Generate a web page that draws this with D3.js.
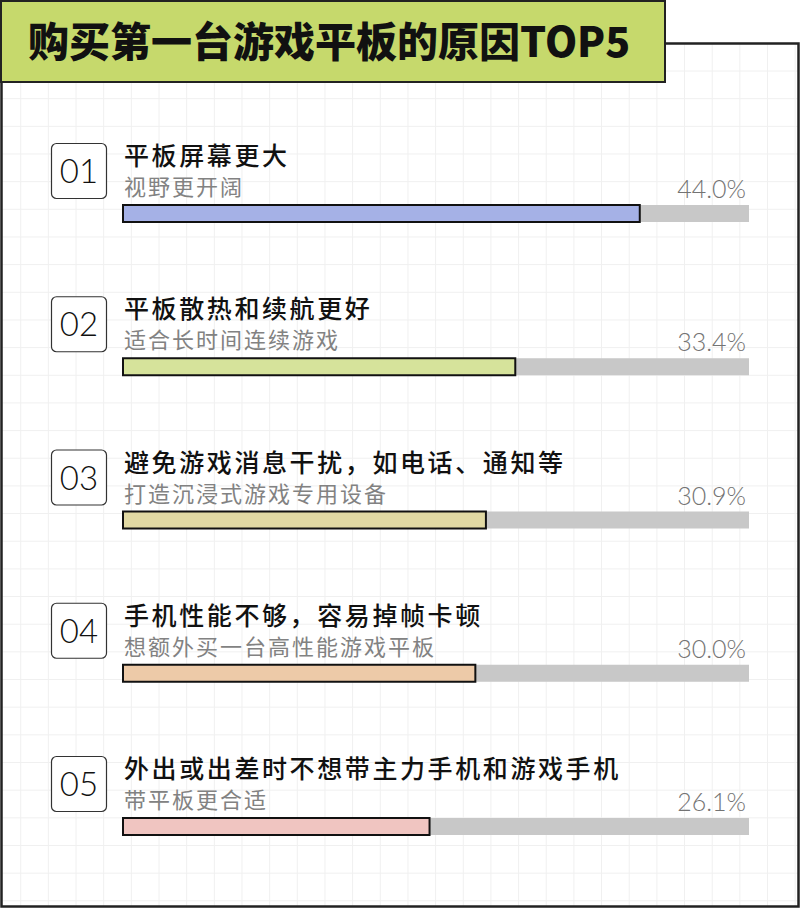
<html>
<head>
<meta charset="utf-8">
<script src="https://d3js.org/d3.v7.min.js"></script>
<style>
  body { margin: 0; background: #fff; }
  svg text { font-family: "Noto Sans CJK SC", "Noto Sans", sans-serif; }
</style>
</head>
<body>
<script>

// data
var ranks   = ["01", "02", "03", "04", "05"];
var reasons = ["平板屏幕更大", "平板散热和续航更好", "避免游戏消息干扰，如电话、通知等",
               "手机性能不够，容易掉帧卡顿", "外出或出差时不想带主力手机和游戏手机"];
var details = ["视野更开阔", "适合长时间连续游戏", "打造沉浸式游戏专用设备",
               "想额外买一台高性能游戏平板", "带平板更合适"];
var shares  = [44.0, 33.4, 30.9, 30.0, 26.1];
var barColors = ["#a5b1e6", "#d6e39b", "#e1d9a3", "#edcaa8", "#f0c5c1"];
var title = "购买第一台游戏平板的原因TOP5";

var rows = ranks.map(function(r, i) {
  return {rank: r, reason: reasons[i], detail: details[i], share: shares[i], color: barColors[i]};
});

var width = 801, height = 910;

var svg = d3.select("body").append("svg")
            .attr("width", width)
            .attr("height", height);

// grid paper background
var gridStep = 27.66;
var gx = d3.range(20.7, 798, gridStep),
    gy = d3.range(71, 906, gridStep);

svg.append("g").selectAll("line.v")
   .data(gx)
   .enter().append("line")
   .attr("x1", function(d) { return d; })
   .attr("x2", function(d) { return d; })
   .attr("y1", 43).attr("y2", 907)
   .attr("stroke", "#f0f0f0").attr("stroke-width", 1);

svg.append("g").selectAll("line.h")
   .data(gy)
   .enter().append("line")
   .attr("y1", function(d) { return d; })
   .attr("y2", function(d) { return d; })
   .attr("x1", 1).attr("x2", 799)
   .attr("stroke", "#f0f0f0").attr("stroke-width", 1);

// frame
svg.append("rect")
   .attr("x", 1.5).attr("y", 43.5)
   .attr("width", 797).attr("height", 863)
   .attr("fill", "none")
   .attr("stroke", "#222").attr("stroke-width", 2.5);

// title box
svg.append("rect")
   .attr("x", 1).attr("y", 1)
   .attr("width", 664).attr("height", 81)
   .attr("fill", "#c6d96c")
   .attr("stroke", "#222").attr("stroke-width", 2);

svg.append("text")
   .attr("x", 28).attr("y", 57)
   .attr("font-size", 41)
   .attr("font-weight", 900)
   .attr("fill", "#111")
   .text(title);

var x = d3.scaleLinear()
          .domain([0, 53.3])
          .range([123, 749]);

var y = d3.scalePoint()
          .domain(ranks)
          .range([205, 818]);

var barH = 17;

var row = svg.selectAll("g.row")
             .data(rows)
             .enter().append("g")
             .attr("class", "row")
             .attr("transform", function(d) { return "translate(0," + y(d.rank) + ")"; });

// rank boxes
row.append("rect")
   .attr("x", 51.5).attr("y", -61.5)
   .attr("width", 55).attr("height", 55)
   .attr("rx", 5)
   .attr("fill", "#fff")
   .attr("stroke", "#333").attr("stroke-width", 1.2);

row.append("text")
   .attr("x", 79).attr("y", -22)
   .attr("text-anchor", "middle")
   .attr("font-size", 33)
   .attr("font-weight", 300)
   .attr("fill", "#111")
   .style("font-family", "Lato, 'Noto Sans', sans-serif")
   .text(function(d) { return d.rank; });

row.append("text")
   .attr("x", 124).attr("y", -40)
   .attr("font-size", 25)
   .attr("font-weight", 500)
   .attr("letter-spacing", 2.6)
   .attr("fill", "#111")
   .text(function(d) { return d.reason; });

row.append("text")
   .attr("x", 124).attr("y", -10)
   .attr("font-size", 22)
   .attr("letter-spacing", 2)
   .attr("fill", "#828282")
   .text(function(d) { return d.detail; });

row.append("text")
   .attr("x", 746).attr("y", -7)
   .attr("text-anchor", "end")
   .attr("font-size", 25)
   .attr("font-weight", 300)
   .attr("fill", "#737373")
   .style("font-family", "Lato, 'Noto Sans', sans-serif")
   .text(function(d) { return d3.format(".1f")(d.share) + "%"; });

// track + bar
row.append("rect")
   .attr("x", x(0)).attr("y", 0)
   .attr("width", x(53.3) - x(0)).attr("height", barH)
   .attr("fill", "#c8c8c8");

row.append("rect")
   .attr("x", x(0)).attr("y", 0)
   .attr("width", function(d) { return x(d.share) - x(0); })
   .attr("height", barH)
   .attr("fill", function(d) { return d.color; })
   .attr("stroke", "#111").attr("stroke-width", 2);

</script>
</body>
</html>
